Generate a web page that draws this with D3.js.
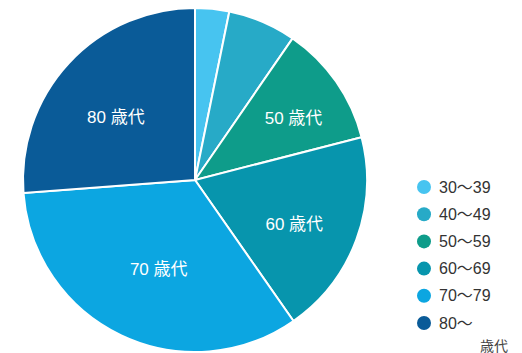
<!DOCTYPE html>
<html>
<head>
<meta charset="utf-8">
<script src="https://cdn.jsdelivr.net/npm/d3@7"></script>
<style>
  body { margin: 0; background: #fff; }
  text { font-family: "Liberation Sans", "Noto Sans CJK JP", sans-serif; }
</style>
</head>
<body>
<svg id="chart" width="522" height="353"></svg>
<script>
// age groups, share in %
const categories = ["30～39", "40～49", "50～59", "60～69", "70～79", "80～"];
const values = [3.2, 6.4, 11.4, 19.3, 33.5, 26.2];
const sliceLabels = ["", "", "50 歳代", "60 歳代", "70 歳代", "80 歳代"];
const colors = ["#47c4f0", "#27aac7", "#0e9c8a", "#0795ad", "#0ca6e1", "#0a5b98"];
const unitLabel = "歳代";

const svg = d3.select("#chart");
const cx = 195, cy = 180, radius = 172;

const pie = d3.pie().sort(null).value(d => d)(values);
const arc = d3.arc().innerRadius(0).outerRadius(radius);
const labelArc = d3.arc().innerRadius(108).outerRadius(108);
// small hand nudges so labels sit like the original
const nudge = [[0, 0], [0, 0], [10, 0], [-2, 7], [10, -9], [0, 10]];

const g = svg.append("g").attr("transform", `translate(${cx},${cy})`);

g.selectAll("path")
    .data(pie)
    .join("path")
    .attr("d", arc)
    .attr("fill", (d, i) => colors[i])
    .attr("stroke", "#fff")
    .attr("stroke-width", 2);

g.selectAll("text.slice")
    .data(pie)
    .join("text")
    .attr("class", "slice")
    .attr("transform", (d, i) => {
        const c = labelArc.centroid(d);
        return `translate(${c[0] + nudge[i][0]},${c[1] + nudge[i][1]})`;
    })
    .attr("text-anchor", "middle")
    .attr("dy", "0.35em")
    .attr("fill", "#fff")
    .style("font-size", "17px")
    .text((d, i) => sliceLabels[i]);

// legend
const legendY = d3.scalePoint().domain(categories).range([187, 323]);
const legend = svg.append("g");
legend.selectAll("circle")
    .data(categories)
    .join("circle")
    .attr("cx", 424)
    .attr("cy", d => legendY(d))
    .attr("r", 7)
    .attr("fill", (d, i) => colors[i]);
legend.selectAll("text")
    .data(categories)
    .join("text")
    .attr("x", 439)
    .attr("y", d => legendY(d))
    .attr("dy", "0.35em")
    .attr("fill", "#333")
    .style("font-size", "16px")
    .text(d => d);

svg.append("text")
    .attr("x", 508)
    .attr("y", 346)
    .attr("dy", "0.35em")
    .attr("text-anchor", "end")
    .attr("fill", "#444")
    .style("font-size", "14px")
    .text(unitLabel);
</script>
</body>
</html>
